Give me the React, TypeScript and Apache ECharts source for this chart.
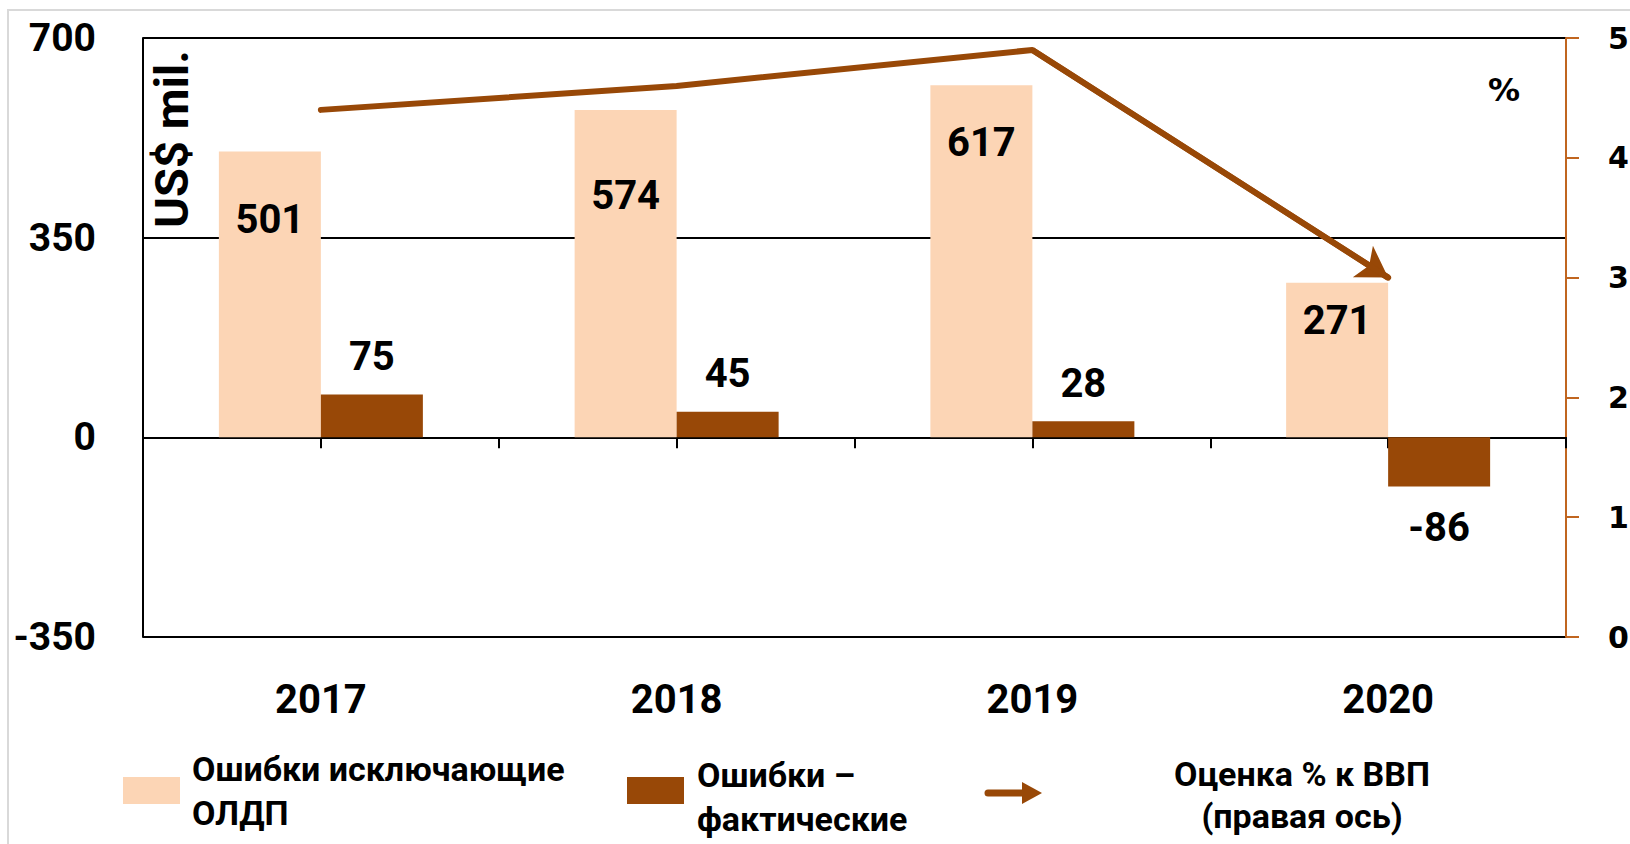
import React, { useEffect, useRef } from "react";
import * as echarts from "echarts";

const years = ["2017", "2018", "2019", "2020"];
const excludingOLDP = [501, 574, 617, 271];
const actualErrors = [75, 45, 28, -86];
const gdpShare = [4.4, 4.6, 4.9, 3.0];
const leftAxis = { min: -350, max: 700, interval: 350 };
const rightAxis = { min: 0, max: 5, interval: 1 };
const lightLabelShift = [68, 86, 57, 38];

const nameLight = "Ошибки исключающие ОЛДП";
const nameDark = "Ошибки – фактические";
const nameLine = "Оценка % к ВВП (правая ось)";

const LIGHT = "#FCD5B5";
const DARK = "#984807";
const AXIS_ORANGE = "#C0651F";
const CAL = "Roboto";

export default function App() {
  const ref = useRef<HTMLDivElement>(null);
  useEffect(() => {
    if (!ref.current) return;
    const chart = echarts.init(ref.current, undefined, { renderer: "svg" });
    const labelFont = { fontFamily: CAL, fontWeight: "bold", fontSize: 40, color: "#000" };
    const option: any = {
      animation: false,
      backgroundColor: "#fff",
      grid: {
        left: 143,
        right: 64,
        top: 38,
        bottom: 207,
        containLabel: false,
        outerBoundsMode: "none",
      },
      xAxis: [
        {
          type: "category",
          data: years,
          position: "bottom",
          axisLine: { show: false, onZero: false },
          axisTick: { show: false },
          splitLine: { show: false },
          axisLabel: { margin: 42, fontFamily: CAL, fontWeight: "bold", fontSize: 40, color: "#000" },
        },
        {
          type: "category",
          data: years,
          position: "bottom",
          axisLine: { show: true, onZero: true, onZeroAxisIndex: 0, lineStyle: { color: "#000", width: 2 } },
          axisTick: { show: true, length: 11, lineStyle: { color: "#000", width: 2 } },
          axisLabel: { show: false },
          splitLine: { show: false },
        },
        {
          type: "category",
          data: years,
          position: "bottom",
          axisLine: { show: false, onZero: true, onZeroAxisIndex: 0 },
          axisTick: { show: true, alignWithLabel: true, length: 11, lineStyle: { color: "#000", width: 2 } },
          axisLabel: { show: false },
          splitLine: { show: false },
        },
      ],
      yAxis: [
        {
          type: "value",
          position: "left",
          min: leftAxis.min,
          max: leftAxis.max,
          interval: leftAxis.interval,
          axisLine: { show: true, lineStyle: { color: "#000", width: 2 } },
          axisTick: { show: false },
          splitLine: { show: true, lineStyle: { color: "#000", width: 2 } },
          axisLabel: { margin: 47, fontFamily: CAL, fontWeight: "bold", fontSize: 39, color: "#000" },
        },
        {
          type: "value",
          position: "right",
          min: rightAxis.min,
          max: rightAxis.max,
          interval: rightAxis.interval,
          axisLine: { show: true, lineStyle: { color: AXIS_ORANGE, width: 2 } },
          axisTick: { show: true, length: 13, lineStyle: { color: AXIS_ORANGE, width: 2 } },
          splitLine: { show: false },
          axisLabel: { margin: 42, fontFamily: "DejaVu Sans", fontWeight: "bold", fontSize: 30, color: "#000" },
        },
      ],
      series: [
        {
          name: nameLight,
          type: "bar",
          xAxisIndex: 0,
          yAxisIndex: 0,
          barWidth: 102,
          barGap: "0%",
          itemStyle: { color: LIGHT },
          data: excludingOLDP.map((v, i) => ({
            value: v,
            label: {
              show: true,
              position: ["50%", lightLabelShift[i]],
              align: "center",
              verticalAlign: "middle",
            },
          })),
          label: { show: true, ...labelFont },
        },
        {
          name: nameDark,
          type: "bar",
          xAxisIndex: 0,
          yAxisIndex: 0,
          barWidth: 102,
          barGap: "0%",
          itemStyle: { color: DARK },
          data: actualErrors.map((v) => ({
            value: v,
            label: { show: true, position: v < 0 ? "bottom" : "top", distance: v < 0 ? 21 : 18 },
          })),
          label: { show: true, ...labelFont },
        },
        {
          name: nameLine,
          type: "line",
          xAxisIndex: 0,
          yAxisIndex: 1,
          data: gdpShare,
          symbol: "none",
          z: 5,
          lineStyle: { color: DARK, width: 6, cap: "round", join: "round" },
          itemStyle: { color: DARK },
          markLine: {
            silent: true,
            symbol: ["none", "arrow"],
            symbolSize: [28, 30],
            label: { show: false },
            lineStyle: { color: DARK, width: 6, type: "solid" },
            data: [
              [
                { coord: [2, gdpShare[2]] },
                { coord: [3, gdpShare[3]] },
              ],
            ],
          },
        },
      ],
      graphic: [
        {
          type: "rect",
          z: -10,
          shape: { x: 8, y: 10, width: 1660, height: 900 },
          style: { fill: "none", stroke: "#d9d9d9", lineWidth: 2 },
        },
        {
          type: "text",
          x: 171,
          y: 139,
          rotation: Math.PI / 2,
          style: {
            text: "US$ mil.",
            fontFamily: CAL,
            fontWeight: "bold",
            fontSize: 47,
            fill: "#000",
            align: "center",
            verticalAlign: "middle",
          },
        },
        {
          type: "text",
          x: 1504,
          y: 90,
          style: {
            text: "%",
            fontFamily: "DejaVu Sans",
            fontWeight: "bold",
            fontSize: 32,
            fill: "#000",
            align: "center",
            verticalAlign: "middle",
          },
        },
        { type: "rect", shape: { x: 123, y: 777, width: 57, height: 27 }, style: { fill: LIGHT } },
        {
          type: "text",
          x: 192,
          y: 791,
          style: {
            text: "Ошибки исключающие\nОЛДП",
            fontFamily: CAL,
            fontWeight: "bold",
            fontSize: 34,
            lineHeight: 44,
            fill: "#000",
            align: "left",
            verticalAlign: "middle",
          },
        },
        { type: "rect", shape: { x: 627, y: 777, width: 57, height: 27 }, style: { fill: DARK } },
        {
          type: "text",
          x: 697,
          y: 797,
          style: {
            text: "Ошибки –\nфактические",
            fontFamily: CAL,
            fontWeight: "bold",
            fontSize: 34,
            lineHeight: 44,
            fill: "#000",
            align: "left",
            verticalAlign: "middle",
          },
        },
        {
          type: "line",
          shape: { x1: 988, y1: 793, x2: 1026, y2: 793 },
          style: { stroke: DARK, lineWidth: 7, lineCap: "round" },
        },
        {
          type: "polygon",
          shape: { points: [[1022, 782], [1042, 793], [1022, 804]] },
          style: { fill: DARK },
        },
        {
          type: "text",
          x: 1302,
          y: 795,
          style: {
            text: "Оценка % к ВВП\n(правая ось)",
            fontFamily: CAL,
            fontWeight: "bold",
            fontSize: 34,
            lineHeight: 42,
            fill: "#000",
            align: "center",
            verticalAlign: "middle",
          },
        },
      ],
    };
    chart.setOption(option);
    return () => chart.dispose();
  }, []);
  return (
    <div
      ref={ref}
      style={{ position: "absolute", left: 0, top: 0, width: 1630, height: 844 }}
    />
  );
}
